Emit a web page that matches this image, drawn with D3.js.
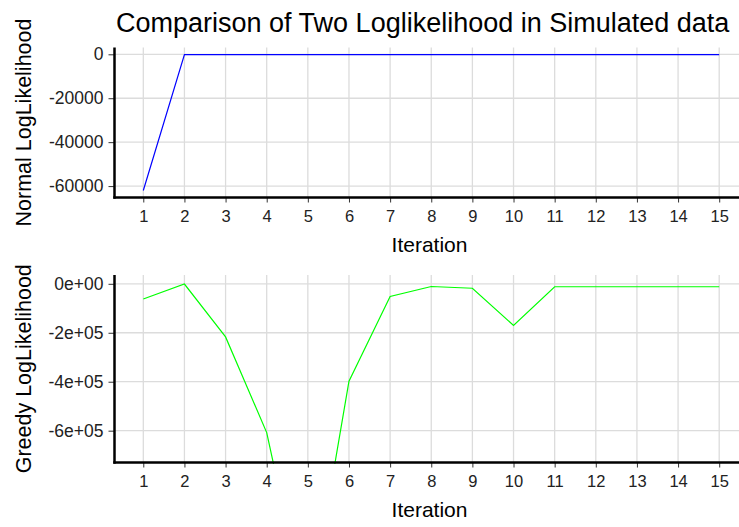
<!DOCTYPE html>
<html>
<head>
<meta charset="utf-8">
<script src="https://cdn.jsdelivr.net/npm/d3@7"></script>
<style>
  body { margin: 0; background: #fff; }
  svg { display: block; font-family: "Liberation Sans", Arial, sans-serif; }
</style>
</head>
<body>
<div id="chart"></div>
<script>
// data
var iterations = [1, 2, 3, 4, 5, 6, 7, 8, 9, 10, 11, 12, 13, 14, 15];
var normalLL = [-62000, -150, -140, -135, -130, -130, -128, -127, -126, -126, -125, -125, -125, -125, -125];
var greedyLL = [-62000, -1000, -217000, -608000, -1380000, -398000, -52000, -11000, -18000, -170000, -12000, -12000, -12000, -12000, -12000];

var normalTicks = [0, -20000, -40000, -60000];
var normalTickLabels = ["0", "-20000", "-40000", "-60000"];
var greedyTicks = [0, -200000, -400000, -600000];
var greedyTickLabels = ["0e+00", "-2e+05", "-4e+05", "-6e+05"];

var width = 739, height = 527;

var svg = d3.select("#chart")
	.append("svg")
	.attr("width", width)
	.attr("height", height);

// clip for the lower panel (the line runs off the bottom)
svg.append("defs").append("clipPath")
	.attr("id", "clipGreedy")
	.append("rect")
	.attr("x", 114.5).attr("y", 275)
	.attr("width", 640).attr("height", 189);

// shared x scale
var x = d3.scaleLinear()
	.domain([0.3, 15.7])
	.range([114.5, 748]);

// title
svg.append("text")
	.attr("x", 116)
	.attr("y", 31.5)
	.attr("font-size", 27)
	.attr("fill", "#000")
	.text("Comparison of Two Loglikelihood in Simulated data");

function drawPanel(opts) {
	var y = d3.scaleLinear()
		.domain(opts.domain)
		.range([opts.bottom, opts.top]);

	var g = svg.append("g");

	// grid
	g.selectAll(".gx")
		.data(iterations)
		.enter().append("line")
		.attr("x1", function(d) { return x(d); })
		.attr("x2", function(d) { return x(d); })
		.attr("y1", opts.top)
		.attr("y2", opts.bottom)
		.attr("stroke", "#dcdcdc")
		.attr("stroke-width", 1.3);

	g.selectAll(".gy")
		.data(opts.ticks)
		.enter().append("line")
		.attr("x1", x.range()[0])
		.attr("x2", x.range()[1])
		.attr("y1", function(d) { return y(d); })
		.attr("y2", function(d) { return y(d); })
		.attr("stroke", "#dcdcdc")
		.attr("stroke-width", 1.3);

	// data line
	var line = d3.line()
		.x(function(d, i) { return x(iterations[i]); })
		.y(function(d) { return y(d); });

	g.append("path")
		.datum(opts.values)
		.attr("d", line)
		.attr("fill", "none")
		.attr("stroke", opts.color)
		.attr("stroke-width", 1.2)
		.attr("clip-path", opts.clip ? "url(#" + opts.clip + ")" : null);

	// x axis
	var xAxis = d3.axisBottom(x)
		.tickValues(iterations)
		.tickSize(5)
		.tickPadding(8)
		.tickFormat(d3.format("d"));

	var gx = g.append("g")
		.attr("transform", "translate(0," + opts.bottom + ")")
		.call(xAxis);
	gx.select(".domain").remove();
	gx.selectAll(".tick line").attr("stroke", "#333");
	gx.selectAll(".tick text")
		.attr("font-size", 16.5)
		.attr("fill", "#222")
		.attr("font-family", "Liberation Sans, Arial, sans-serif");

	// y axis
	var yAxis = d3.axisLeft(y)
		.tickValues(opts.ticks)
		.tickSize(6)
		.tickPadding(5)
		.tickFormat(function(d, i) { return opts.tickLabels[i]; });

	var gy = g.append("g")
		.attr("transform", "translate(" + x.range()[0] + ",0)")
		.call(yAxis);
	gy.select(".domain").remove();
	gy.selectAll(".tick line").attr("stroke", "#333");
	gy.selectAll(".tick text")
		.attr("font-size", 17.5)
		.attr("fill", "#222")
		.attr("font-family", "Liberation Sans, Arial, sans-serif");

	// axis lines
	g.append("line")
		.attr("x1", x.range()[0]).attr("x2", x.range()[0])
		.attr("y1", opts.top).attr("y2", opts.bottom + 1.2)
		.attr("stroke", "#000").attr("stroke-width", 2.5);
	g.append("line")
		.attr("x1", x.range()[0] - 1.2).attr("x2", x.range()[1])
		.attr("y1", opts.bottom).attr("y2", opts.bottom)
		.attr("stroke", "#000").attr("stroke-width", 2.5);

	// axis titles
	g.append("text")
		.attr("x", 429.5)
		.attr("y", opts.bottom + 54)
		.attr("text-anchor", "middle")
		.attr("font-size", 21)
		.attr("fill", "#000")
		.text("Iteration");

	g.append("text")
		.attr("transform", "translate(31," + ((opts.top + opts.bottom) / 2) + ") rotate(-90)")
		.attr("text-anchor", "middle")
		.attr("font-size", 21.5)
		.attr("fill", "#000")
		.text(opts.yTitle);
}

drawPanel({
	values: normalLL,
	domain: [-65200, 3100],
	top: 47.5,
	bottom: 197.5,
	ticks: normalTicks,
	tickLabels: normalTickLabels,
	color: "#0000ff",
	yTitle: "Normal LogLikelihood"
});

drawPanel({
	values: greedyLL,
	domain: [-730000, 36000],
	top: 275,
	bottom: 462.5,
	ticks: greedyTicks,
	tickLabels: greedyTickLabels,
	color: "#00ff00",
	clip: "clipGreedy",
	yTitle: "Greedy LogLikelihood"
});
</script>
</body>
</html>
